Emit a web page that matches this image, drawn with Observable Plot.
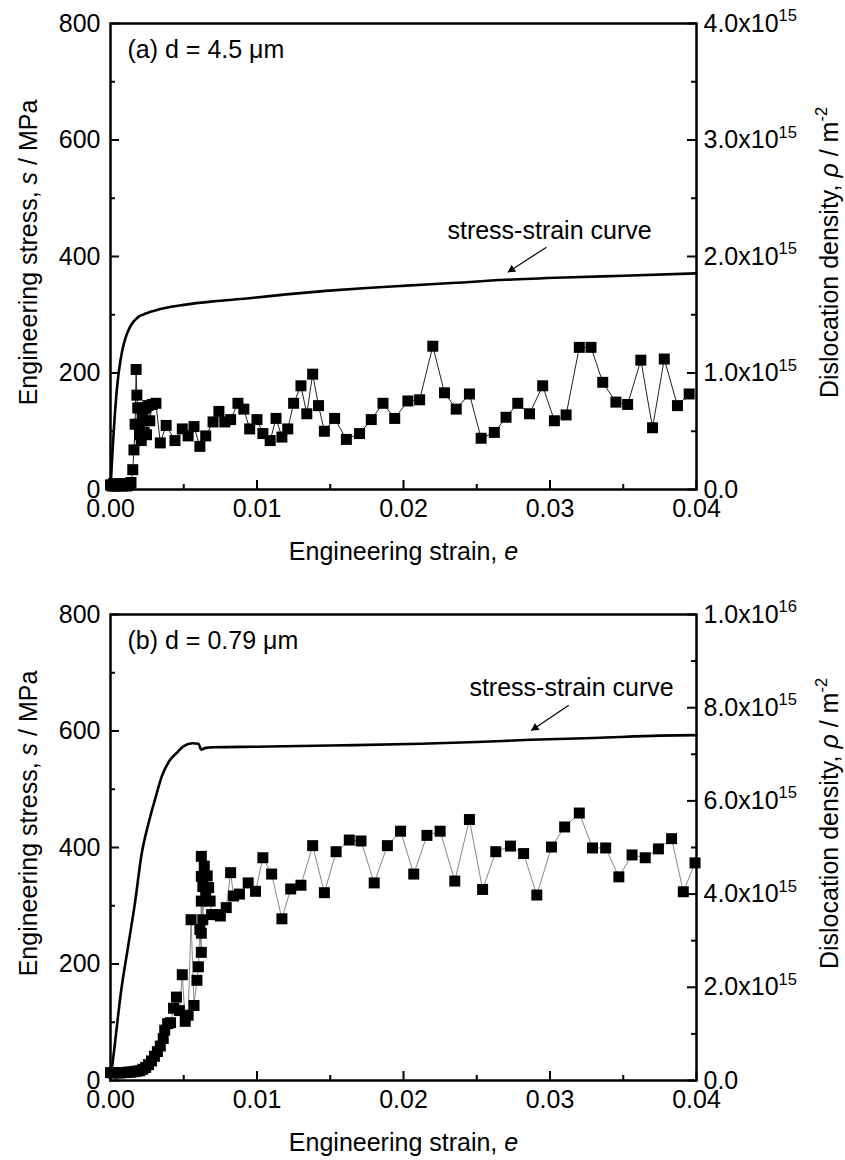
<!DOCTYPE html>
<html>
<head>
<meta charset="utf-8">
<script src="https://cdn.jsdelivr.net/npm/d3@7"></script>
<script src="https://cdn.jsdelivr.net/npm/@observablehq/plot@0.6"></script>
<style>
  html, body { margin: 0; padding: 0; background: #fff; }
  #chart svg { display: block; }
</style>
</head>
<body>
<div id="chart"></div>
<script>
// ---------------- Panel (a): d = 4.5 μm ----------------
const curveA_strain = [0, 0.0001, 0.0002, 0.0003, 0.0004, 0.0005, 0.0006, 0.0008, 0.0010, 0.0012, 0.0014, 0.0016, 0.0018, 0.0020, 0.0023, 0.0026, 0.0030, 0.0038, 0.0050, 0.0070, 0.0093, 0.0120, 0.0147, 0.0175, 0.0202, 0.0230, 0.0270, 0.0310, 0.0350, 0.0400];
const curveA_stress = [0, 48, 92, 130, 162, 188, 208, 238, 258, 272, 282, 289, 294, 298, 301, 304, 307, 312, 317, 323, 328, 335, 341, 346, 350, 354, 360, 364, 367, 371];

const rhoA_strain = [0.0000, 0.0001, 0.0002, 0.0003, 0.0004, 0.0005, 0.0006, 0.0007, 0.0008, 0.0009, 0.0010, 0.0011, 0.0012, 0.0013, 0.0014, 0.00152, 0.00160, 0.00168, 0.00175, 0.00180, 0.00186, 0.00192, 0.00198, 0.00204, 0.00210, 0.00216, 0.00222, 0.00230, 0.00238, 0.00246, 0.00256, 0.00268, 0.00285, 0.00310, 0.00340, 0.00380,
  0.0044, 0.0049, 0.0053, 0.0057, 0.0061, 0.0065, 0.0070, 0.0074, 0.0078, 0.0082, 0.0087, 0.0091, 0.0095, 0.0100, 0.0104, 0.0109, 0.0113, 0.0117, 0.0121, 0.0125, 0.0130, 0.0134, 0.0138, 0.0142, 0.0146, 0.0153, 0.0161, 0.0170, 0.0178, 0.0186, 0.0194, 0.0203, 0.0211, 0.0220, 0.0228, 0.0236, 0.0245, 0.0253, 0.0262, 0.0270, 0.0278, 0.0286, 0.0295, 0.0303, 0.0311, 0.0320, 0.0328, 0.0336, 0.0345, 0.0353, 0.0362, 0.0370, 0.0378, 0.0387, 0.0395];
// dislocation density, ×10^15 m^-2
const rhoA_density = [0.04, 0.03, 0.05, 0.03, 0.04, 0.03, 0.05, 0.04, 0.03, 0.05, 0.04, 0.03, 0.05, 0.04, 0.06, 0.17, 0.34, 0.56, 1.03, 0.81, 0.70, 0.56, 0.47, 0.70, 0.42, 0.62, 0.69, 0.49, 0.70, 0.47, 0.72, 0.59, 0.73, 0.74, 0.40, 0.55,
  0.42, 0.52, 0.46, 0.54, 0.37, 0.46, 0.58, 0.67, 0.58, 0.60, 0.74, 0.69, 0.52, 0.60, 0.48, 0.42, 0.61, 0.45, 0.52, 0.74, 0.89, 0.65, 0.99, 0.72, 0.50, 0.61, 0.43, 0.48, 0.60, 0.74, 0.61, 0.76, 0.77, 1.23, 0.83, 0.69, 0.82, 0.44, 0.49, 0.62, 0.74, 0.65, 0.89, 0.59, 0.64, 1.22, 1.22, 0.92, 0.75, 0.73, 1.11, 0.53, 1.12, 0.72, 0.82];

// ---------------- Panel (b): d = 0.79 μm ----------------
const curveB_strain = [0, 0.0003, 0.0007, 0.0012, 0.0017, 0.0021, 0.0026, 0.0031, 0.0035, 0.0040, 0.0045, 0.0050, 0.0056, 0.0060, 0.0062, 0.0065, 0.0070, 0.0100, 0.0150, 0.0212, 0.0250, 0.0287, 0.0330, 0.0375, 0.0400];
const curveB_stress = [0, 63, 149, 230, 310, 385, 442, 488, 522, 548, 562, 574, 579, 578, 568, 571, 572, 573, 575, 578, 581, 585, 588, 592, 593];

const rhoB_strain = [0.0000, 0.0002, 0.0004, 0.0006, 0.0008, 0.0010, 0.0012, 0.0014, 0.0016, 0.0018, 0.0020, 0.0022, 0.0024, 0.0026, 0.0028, 0.0030, 0.0032, 0.0034, 0.0036, 0.0037, 0.0039, 0.0041, 0.0043, 0.0045, 0.0047, 0.0049, 0.0051, 0.0053, 0.0055, 0.0057, 0.0059, 0.0060, 0.0061, 0.0062, 0.0062, 0.0062, 0.0062, 0.0062, 0.0063, 0.0063, 0.0064, 0.0065, 0.0066, 0.0067, 0.0068, 0.0069, 0.0072, 0.0075, 0.0079, 0.0082, 0.0084, 0.0088, 0.0094, 0.0099,
  0.0104, 0.0110, 0.0117, 0.0123, 0.0130, 0.0138, 0.0146, 0.0154, 0.0163, 0.0171, 0.0180, 0.0189, 0.0198, 0.0207, 0.0216, 0.0225, 0.0235, 0.0245, 0.0254, 0.0263, 0.0273, 0.0282, 0.0291, 0.0301, 0.0310, 0.0320, 0.0329, 0.0338, 0.0347, 0.0356, 0.0365, 0.0374, 0.0383, 0.0391, 0.0399];
// dislocation density, ×10^15 m^-2
const rhoB_density = [0.17, 0.16, 0.17, 0.16, 0.17, 0.17, 0.18, 0.18, 0.19, 0.20, 0.21, 0.24, 0.28, 0.34, 0.42, 0.52, 0.62, 0.74, 0.90, 1.08, 1.22, 1.24, 1.55, 1.79, 1.50, 2.27, 1.27, 1.40, 3.45, 1.61, 2.15, 2.44, 3.24, 2.75, 3.85, 3.16, 4.38, 4.81, 4.16, 3.45, 4.60, 3.95, 4.39, 4.14, 3.85, 3.56, 3.56, 3.53, 3.71, 4.46, 3.96, 4.00, 4.24, 4.06,
  4.78, 4.43, 3.47, 4.11, 4.19, 5.04, 4.03, 4.91, 5.16, 5.14, 4.24, 5.04, 5.35, 4.43, 5.26, 5.35, 4.28, 5.60, 4.10, 4.91, 5.03, 4.87, 3.98, 5.01, 5.44, 5.74, 4.99, 4.99, 4.37, 4.84, 4.78, 4.97, 5.19, 4.05, 4.67];

// ---------------- Axes ----------------
const strainTicks = [0, 0.01, 0.02, 0.03, 0.04];
const strainMinorTicks = [0.005, 0.015, 0.025, 0.035];
const stressTicks = [0, 200, 400, 600, 800];
const stressMinorTicks = [100, 300, 500, 700];

const densityTicksA = [0, 1, 2, 3, 4];             // ×10^15
const densityMinorA = [0.5, 1.5, 2.5, 3.5];
const densityLabelsA = ["0.0", "1.0x10^{15}", "2.0x10^{15}", "3.0x10^{15}", "4.0x10^{15}"];
const densityTicksB = [0, 2, 4, 6, 8, 10];         // ×10^15
const densityMinorB = [1, 3, 5, 7, 9];
const densityLabelsB = ["0.0", "2.0x10^{15}", "4.0x10^{15}", "6.0x10^{15}", "8.0x10^{15}", "1.0x10^{16}"];

const xTitle = "Engineering strain, *e*";
const yTitle = "Engineering stress, *s* / MPa";
const y2Title = "Dislocation density, *ρ* / m^{-2}";
const panelLabels = ["(a) d = 4.5 μm", "(b) d = 0.79 μm"];
const noteText = "stress-strain curve";

// ---------------- Layout ----------------
const W = 845, ML = 110, MR = 149;
const FONT = "'Liberation Sans', Arial, Helvetica, sans-serif";
const FS = 25;

function richify(svg) {
  const NS = "http://www.w3.org/2000/svg";
  svg.querySelectorAll("text").forEach(el => {
    const s = el.textContent;
    if (!/\*|\^\{/.test(s)) return;
    const fs = parseFloat(getComputedStyle(el).fontSize) || FS;
    const shift = 0.42 * fs;
    el.textContent = "";
    const re = /\*([^*]+)\*|\^\{([^}]+)\}/g;
    let last = 0, m, raised = false;
    const add = (t, o) => {
      if (!t) return;
      const ts = document.createElementNS(NS, "tspan");
      ts.textContent = t;
      if (o.italic) ts.setAttribute("font-style", "italic");
      if (o.sup) {
        ts.setAttribute("font-size", (0.66 * fs) + "px");
        ts.setAttribute("dy", (-shift) + "");
        raised = true;
      } else if (raised) {
        ts.setAttribute("dy", shift + "");
        raised = false;
      }
      el.appendChild(ts);
    };
    while ((m = re.exec(s))) {
      add(s.slice(last, m.index), {});
      if (m[1] !== undefined) add(m[1], {italic: true});
      else add(m[2], {sup: true});
      last = re.lastIndex;
    }
    add(s.slice(last), {});
  });
}

function panel(cfg) {
  const {height, marginTop, marginBottom, k} = cfg;
  const plotW = W - ML - MR, plotH = height - marginTop - marginBottom;
  const curve = cfg.curveStrain.map((e, i) => ({e, s: cfg.curveStress[i]}));
  const pts = cfg.rhoStrain.map((e, i) => ({e, s: cfg.rho[i] * k}));
  const rTicks = cfg.densityTicks.map(v => v * k);
  const rMinor = cfg.densityMinor.map(v => v * k);
  const fmt = new Map(rTicks.map((v, i) => [v, cfg.densityLabels[i]]));

  // arrow head direction (screen space)
  const a = cfg.arrow;
  const pxX = plotW / 0.04, pxY = plotH / 800;
  const sdx = (a.x2 - a.x1) * pxX, sdy = -(a.y2 - a.y1) * pxY;
  const len = Math.hypot(sdx, sdy);
  const rot = Math.atan2(sdy, sdx) * 180 / Math.PI + 90;
  const back = 4.8;
  const head = {x: a.x2 - (sdx / len) * back / pxX, y: a.y2 + (sdy / len) * back / pxY};

  const svg = Plot.plot({
    width: W, height, marginTop, marginBottom, marginLeft: ML, marginRight: MR,
    style: {fontFamily: FONT, fontSize: FS + "px", color: "black", background: "white", overflow: "visible"},
    x: {domain: [0, 0.04]},
    y: {domain: [0, 800]},
    marks: [
      Plot.line(pts, {x: "e", y: "s", stroke: cfg.linkColor, strokeWidth: 1}),
      Plot.dot(pts, {x: "e", y: "s", symbol: "square", r: 6.2, fill: "black"}),
      Plot.line(curve, {x: "e", y: "s", stroke: "black", strokeWidth: 2.6, curve: "monotone-x"}),
      // inward ticks
      Plot.tickX(strainTicks, {x: d => d, insetTop: plotH - 9, strokeWidth: 2}),
      Plot.tickX(strainMinorTicks, {x: d => d, insetTop: plotH - 5, strokeWidth: 2}),
      Plot.tickY(stressTicks, {y: d => d, insetRight: plotW - 9, strokeWidth: 2}),
      Plot.tickY(stressMinorTicks, {y: d => d, insetRight: plotW - 5, strokeWidth: 2}),
      Plot.tickY(rTicks, {y: d => d, insetLeft: plotW - 9, strokeWidth: 2}),
      Plot.tickY(rMinor, {y: d => d, insetLeft: plotW - 5, strokeWidth: 2}),
      // tick labels
      Plot.axisX(strainTicks, {tickSize: 0, tickPadding: 10, tickFormat: d3.format(".2f"), label: null, fontSize: FS}),
      Plot.axisY(stressTicks, {anchor: "left", tickSize: 0, tickPadding: 10, tickFormat: d3.format("d"), label: null, fontSize: FS}),
      Plot.axisY(rTicks, {anchor: "right", tickSize: 0, tickPadding: 7, tickFormat: v => fmt.get(v), label: null, fontSize: FS}),
      Plot.frame({stroke: "black", strokeWidth: 2.5}),
      // titles
      Plot.text([xTitle], {text: d => d, frameAnchor: "bottom", dy: cfg.xTitleDy, textAnchor: "middle", lineAnchor: "middle", fontSize: FS}),
      Plot.text([yTitle], {text: d => d, frameAnchor: "left", dx: -82, dy: cfg.yTitleDy, rotate: -90, textAnchor: "middle", lineAnchor: "middle", fontSize: FS}),
      Plot.text([y2Title], {text: d => d, frameAnchor: "right", dx: 133, dy: cfg.yTitleDy, rotate: -90, textAnchor: "middle", lineAnchor: "middle", fontSize: FS}),
      Plot.text([cfg.label], {text: d => d, frameAnchor: "top-left", dx: 17, dy: 26, textAnchor: "start", lineAnchor: "middle", fontSize: FS}),
      // annotation
      Plot.text([noteText], {text: d => d, x: () => cfg.note.x, y: () => cfg.note.y, textAnchor: "start", lineAnchor: "middle", fontSize: FS}),
      Plot.link([a], {x1: "x1", y1: "y1", x2: "x2", y2: "y2", stroke: "black", strokeWidth: 1.2}),
      Plot.dot([head], {x: "x", y: "y", symbol: "triangle2", r: 4, rotate: rot, fill: "black"})
    ]
  });
  richify(svg);
  return svg;
}

const root = document.getElementById("chart");
root.appendChild(panel({
  height: 580, marginTop: 23, marginBottom: 91, k: 200,
  curveStrain: curveA_strain, curveStress: curveA_stress,
  rhoStrain: rhoA_strain, rho: rhoA_density,
  densityTicks: densityTicksA, densityMinor: densityMinorA, densityLabels: densityLabelsA,
  linkColor: "#222", label: panelLabels[0], xTitleDy: 62, yTitleDy: -4,
  note: {x: 0.0230, y: 443},
  arrow: {x1: 0.02976, y1: 416, x2: 0.02712, y2: 373}
}));
root.appendChild(panel({
  height: 580, marginTop: 34, marginBottom: 80, k: 80,
  curveStrain: curveB_strain, curveStress: curveB_stress,
  rhoStrain: rhoB_strain, rho: rhoB_density,
  densityTicks: densityTicksB, densityMinor: densityMinorB, densityLabels: densityLabelsB,
  linkColor: "#888", label: panelLabels[1], xTitleDy: 62, yTitleDy: -24,
  note: {x: 0.0245, y: 673},
  arrow: {x1: 0.03128, y1: 644, x2: 0.02872, y2: 601}
}));
</script>
</body>
</html>
